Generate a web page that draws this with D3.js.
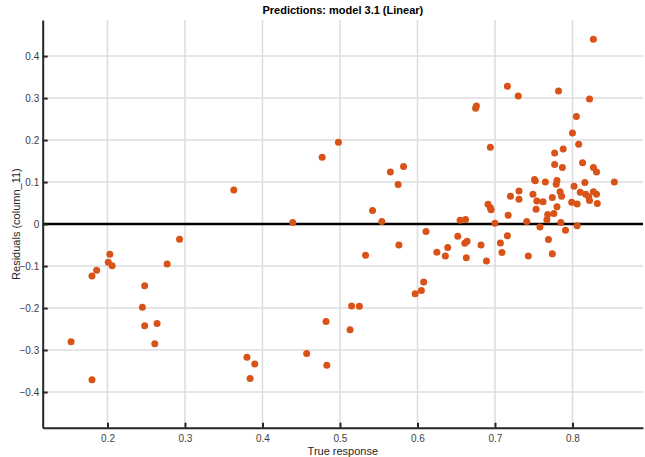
<!DOCTYPE html>
<html lang="en">
<head>
    <meta charset="UTF-8">
    <title>Predictions: model 3.1 (Linear)</title>
    <script src="https://d3js.org/d3.v7.min.js"></script>
    <style>
        body {
            margin: 0;
            padding: 0;
            background-color: #fff;
            overflow: hidden;
            font-family: "Liberation Sans", Arial, sans-serif;
        }
        .grid line {
            stroke: #dcdcdc;
            stroke-width: 1.5px;
        }
        .tick-label {
            font-size: 10px;
            fill: #404040;
        }
        .axis-title {
            font-size: 11px;
            fill: #262626;
        }
    </style>
</head>
<body>
    <div id="chart"></div>

    <script>
        // True response (x) and residuals (y)
        const trueResponse = [
            0.477, 0.363, 0.439, 0.293, 0.203, 0.201, 0.206, 0.277, 0.186, 0.180,
            0.248, 0.245, 0.248, 0.264, 0.261, 0.153, 0.180, 0.380, 0.390, 0.384,
            0.457, 0.482, 0.483, 0.515, 0.525, 0.513,
            0.827, 0.716, 0.782, 0.730, 0.822, 0.676, 0.675, 0.805, 0.800, 0.498,
            0.808, 0.694, 0.788, 0.777, 0.582, 0.777, 0.787, 0.813, 0.827, 0.831,
            0.565, 0.575, 0.854, 0.751, 0.752, 0.765, 0.780, 0.779, 0.816, 0.802,
            0.731, 0.720, 0.731, 0.749, 0.774, 0.784, 0.786, 0.810, 0.817, 0.827,
            0.831, 0.821, 0.822, 0.832, 0.754, 0.762, 0.799, 0.806, 0.691, 0.694,
            0.695, 0.753, 0.780, 0.776, 0.768, 0.767, 0.717, 0.542, 0.554, 0.655,
            0.662, 0.700, 0.741, 0.785, 0.806, 0.758, 0.791, 0.611, 0.652, 0.716,
            0.769, 0.664, 0.661, 0.682, 0.707, 0.576, 0.533, 0.625, 0.639, 0.636,
            0.663, 0.689, 0.709, 0.743, 0.774, 0.608, 0.605, 0.597
        ];
        const residuals = [
            0.159, 0.081, 0.004, -0.036, -0.072, -0.091, -0.099, -0.095, -0.110, -0.124,
            -0.147, -0.198, -0.242, -0.237, -0.285, -0.280, -0.371, -0.317, -0.333, -0.368,
            -0.308, -0.232, -0.336, -0.195, -0.196, -0.252,
            0.440, 0.328, 0.317, 0.305, 0.298, 0.281, 0.276, 0.256, 0.217, 0.195,
            0.190, 0.183, 0.179, 0.169, 0.137, 0.142, 0.135, 0.146, 0.135, 0.124,
            0.124, 0.094, 0.100, 0.106, 0.103, 0.100, 0.104, 0.095, 0.099, 0.090,
            0.079, 0.066, 0.059, 0.071, 0.063, 0.077, 0.066, 0.076, 0.071, 0.077,
            0.071, 0.065, 0.056, 0.049, 0.055, 0.053, 0.052, 0.048, 0.047, 0.039,
            0.034, 0.035, 0.041, 0.025, 0.023, 0.010, 0.021, 0.032, 0.006, 0.009,
            0.011, 0.002, 0.006, 0.004, -0.004, -0.007, -0.015, -0.018, -0.029, -0.028,
            -0.037, -0.041, -0.046, -0.050, -0.045, -0.050, -0.074, -0.067, -0.056, -0.076,
            -0.080, -0.088, -0.068, -0.076, -0.071, -0.138, -0.158, -0.166
        ];

        const xTicks = [0.2, 0.3, 0.4, 0.5, 0.6, 0.7, 0.8];
        const yTicks = [-0.4, -0.3, -0.2, -0.1, 0, 0.1, 0.2, 0.3, 0.4];
        const xDomain = [0.1164, 0.891];
        const yDomain = [-0.485, 0.486];

        const width = 645;
        const height = 457;
        const margin = { top: 20, right: 2, bottom: 29.3, left: 42.7 };

        const svg = d3.select("#chart").append("svg")
            .attr("width", width)
            .attr("height", height);

        const x = d3.scaleLinear().domain(xDomain).range([margin.left, width - margin.right]);
        const y = d3.scaleLinear().domain(yDomain).range([height - margin.bottom, margin.top]);

        // Grid lines
        const grid = svg.append("g").attr("class", "grid");
        grid.selectAll(".vx")
            .data(xTicks)
            .enter().append("line")
            .attr("x1", d => x(d)).attr("x2", d => x(d))
            .attr("y1", y.range()[1]).attr("y2", y.range()[0]);
        grid.selectAll(".hy")
            .data(yTicks)
            .enter().append("line")
            .attr("x1", x.range()[0]).attr("x2", x.range()[1])
            .attr("y1", d => y(d)).attr("y2", d => y(d));

        // Zero reference line
        svg.append("line")
            .attr("x1", x.range()[0]).attr("x2", x.range()[1])
            .attr("y1", y(0)).attr("y2", y(0))
            .attr("stroke", "#000")
            .attr("stroke-width", 2.5);

        // Points
        svg.append("g")
            .selectAll("circle")
            .data(d3.range(trueResponse.length))
            .enter().append("circle")
            .attr("cx", i => x(trueResponse[i]))
            .attr("cy", i => y(residuals[i]))
            .attr("r", 3.5)
            .attr("fill", "#D95319");

        // Axes (MATLAB style: ticks pointing inward)
        const xAxis = d3.axisBottom(x).tickValues(xTicks).tickSizeInner(-5).tickSizeOuter(0).tickFormat(d3.format("~g"));
        const yAxis = d3.axisLeft(y).tickValues(yTicks).tickSizeInner(-5).tickSizeOuter(0).tickFormat(d3.format("~g"));

        const gx = svg.append("g")
            .attr("transform", `translate(0,${y.range()[0]})`)
            .call(xAxis);
        const gy = svg.append("g")
            .attr("transform", `translate(${x.range()[0]},0)`)
            .call(yAxis);

        [gx, gy].forEach(g => {
            g.select(".domain").attr("stroke", "#262626").attr("stroke-width", 2);
            g.selectAll(".tick line").attr("stroke", "#262626").attr("stroke-width", 2);
            g.selectAll(".tick text")
                .attr("class", "tick-label")
                .attr("font-family", null)
                .attr("font-size", null)
                .attr("fill", null);
        });
        gx.selectAll(".tick text").attr("y", 7).attr("dy", "0.71em");
        gy.selectAll(".tick text").attr("x", -3.5).attr("dy", "0.34em");

        // Titles
        svg.append("text")
            .attr("x", (x.range()[0] + x.range()[1]) / 2)
            .attr("y", 14)
            .attr("text-anchor", "middle")
            .attr("font-size", 11)
            .attr("font-weight", "bold")
            .attr("fill", "#000")
            .text("Predictions: model 3.1 (Linear)");

        svg.append("text")
            .attr("class", "axis-title")
            .attr("x", (x.range()[0] + x.range()[1]) / 2)
            .attr("y", 455)
            .attr("text-anchor", "middle")
            .text("True response");

        svg.append("text")
            .attr("class", "axis-title")
            .attr("transform", `translate(19.5,${y(0)}) rotate(-90)`)
            .attr("text-anchor", "middle")
            .text("Residuals (column_11)");
    </script>
</body>
</html>
